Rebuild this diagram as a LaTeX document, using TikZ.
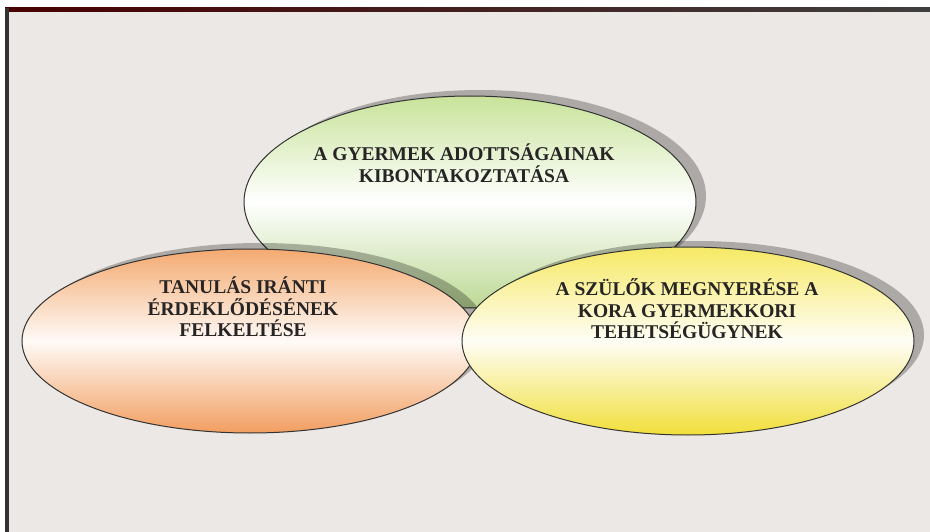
\documentclass[tikz,border=0pt]{standalone}
\usepackage{fontspec}
\setmainfont{Liberation Serif}
\usetikzlibrary{shapes.geometric,shadows}
\definecolor{bg}{HTML}{ECE8E5}
\definecolor{txt}{HTML}{262424}
\definecolor{gtop}{HTML}{C8E39A}
\definecolor{gbot}{HTML}{BCD994}
\definecolor{otop}{HTML}{F4AA70}
\definecolor{obot}{HTML}{F29E60}
\definecolor{ytop}{HTML}{F6E964}
\definecolor{ybot}{HTML}{F1DF3A}
\tikzset{
  oval/.style={ellipse, inner sep=0pt, draw=black!80, line width=1pt,
    drop shadow={shadow xshift=10pt, shadow yshift=6pt, fill=black, opacity=0.27}},
  lbl/.style={align=center, text=txt, font=\bfseries\fontsize{19.5}{21.5}\selectfont}
}
\begin{document}
\begin{tikzpicture}[x=1pt,y=-1pt]
\useasboundingbox (0,0) rectangle (930,532);
\fill[white] (0,0) rectangle (930,532);
% frame
\fill[bg] (5,9) rectangle (935,537);
\shade[left color=black!60!red!70!black, right color=black!75] (5,8) rectangle (935,12);
\fill[black!80] (5,8) rectangle (8.5,537);
% ellipses
\node[oval, minimum width=452pt, minimum height=212pt,
      top color=gtop, bottom color=gbot, middle color=white] (top) at (470,202) {};
\node[oval, minimum width=456pt, minimum height=184pt,
      top color=otop, bottom color=obot, middle color=white!94!otop] (left) at (250,341) {};
\node[oval, minimum width=452pt, minimum height=188pt,
      top color=ytop, bottom color=ybot, middle color=white!94!ytop] (right) at (688,341) {};
% labels
\node[lbl] (ttop) at (464,163) {A GYERMEK ADOTTSÁGAINAK\\KIBONTAKOZTATÁSA};
\node[lbl] (tleft) at (243,307) {TANULÁS IRÁNTI\\ÉRDEKLŐDÉSÉNEK\\FELKELTÉSE};
\node[lbl] (tright) at (687,309) {A SZÜLŐK MEGNYERÉSE A\\KORA GYERMEKKORI\\TEHETSÉGÜGYNEK};
\end{tikzpicture}
\end{document}
